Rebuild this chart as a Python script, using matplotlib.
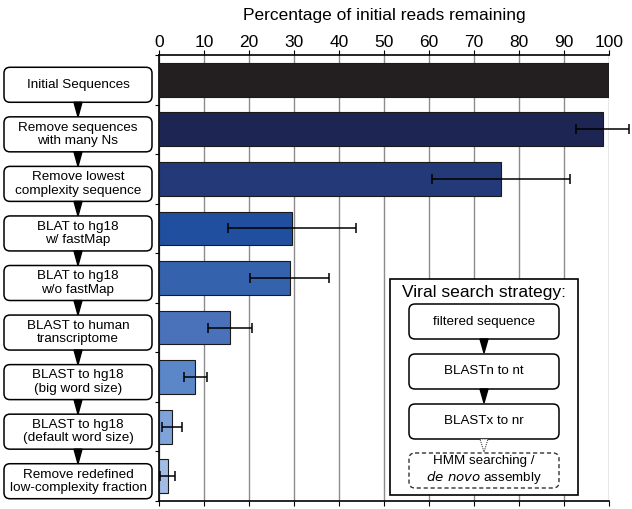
import matplotlib.pyplot as plt
from matplotlib.patches import FancyBboxPatch, Polygon

plt.rcParams['font.family'] = ['Liberation Sans', 'DejaVu Sans']

steps = ['Initial Sequences', 'Remove sequences\nwith many Ns', 'Remove lowest\ncomplexity sequence',
         'BLAT to hg18\nw/ fastMap', 'BLAT to hg18\nw/o fastMap', 'BLAST to human\ntranscriptome',
         'BLAST to hg18\n(big word size)', 'BLAST to hg18\n(default word size)',
         'Remove redefined\nlow-complexity fraction']
pct = [100, 98.6, 76.0, 29.5, 29.0, 15.8, 8.1, 2.9, 1.9]
err = [0, 5.9, 15.3, 14.2, 8.7, 4.9, 2.6, 2.3, 1.7]
colors = ['#231f20', '#1d2553', '#243a78', '#1f4f9e', '#3562ac', '#4a72bb', '#5b86c8', '#7ea3da', '#a2bce6']
viral_steps = ['filtered sequence', 'BLASTn to nt', 'BLASTx to nr']
viral_last = r'HMM searching /' + '\n' + r'$\it{de\ novo}$ assembly'

fig = plt.figure(figsize=(6.32, 5.09), dpi=100)
ax = fig.add_axes([159 / 632, 1 - 501 / 509, 450 / 632, 446 / 509])

y = list(range(len(steps)))
ax.barh(y, pct, height=0.68, color=colors, edgecolor='#1a1a1a', linewidth=0.8, zorder=3)
for i in range(1, len(steps)):
    ax.errorbar(pct[i], i, xerr=err[i], fmt='none', ecolor='black', elinewidth=1.1,
                capsize=3.5, capthick=1.1, zorder=4, clip_on=False)

ax.set_xlim(0, 100)
ax.set_ylim(len(steps) - 0.5, -0.5)
ax.set_xticks(range(0, 101, 10))
ax.xaxis.tick_top()
ax.tick_params(axis='x', labelsize=12.5, length=3.5, direction='out', bottom=True, top=True, pad=0)
ax.xaxis.set_label_position('top')
ax.set_xlabel('Percentage of initial reads remaining', fontsize=12.5, labelpad=11)
ax.set_yticks([i + 0.5 for i in range(-1, len(steps))])
ax.set_yticklabels([])
ax.tick_params(axis='y', length=3, direction='out')
ax.grid(axis='x', color='#8c8c8c', linewidth=1.0, zorder=0)
ax.spines['right'].set_visible(False)
for s in ['left', 'top', 'bottom']:
    ax.spines[s].set_linewidth(1.2)

# overlay in pixel coords for the flowchart decorations
ov = fig.add_axes([0, 0, 1, 1], zorder=5)
ov.set_xlim(0, 632)
ov.set_ylim(509, 0)
ov.axis('off')
ov.patch.set_alpha(0)

row = 446 / len(steps)
for i, name in enumerate(steps):
    cy = 55 + row * (i + 0.5) + 5
    ov.add_patch(FancyBboxPatch((4, cy - 17.5), 148, 35, boxstyle='round,pad=0,rounding_size=6',
                                facecolor='white', edgecolor='black', linewidth=1.1))
    ov.text(78, cy, name, ha='center', va='center', fontsize=9.7, linespacing=1.15)
    if i < len(steps) - 1:
        top = cy + 17.5
        bot = 55 + row * (i + 1.5) + 5 - 17.5
        ov.add_patch(Polygon([(74, top), (82, top), (78, bot)], closed=True, color='black'))

# inset
ov.add_patch(FancyBboxPatch((390, 279), 188, 216, boxstyle='square,pad=0',
                            facecolor='white', edgecolor='black', linewidth=1.2))
ov.text(484, 292, 'Viral search strategy:', ha='center', va='center', fontsize=12.6)
tops = [304, 354, 404]
for t, name in zip(tops, viral_steps):
    ov.add_patch(FancyBboxPatch((409, t), 150, 35, boxstyle='round,pad=0,rounding_size=6',
                                facecolor='white', edgecolor='black', linewidth=1.1))
    ov.text(484, t + 17.5, name, ha='center', va='center', fontsize=9.6)
for t in tops[:2]:
    ov.add_patch(Polygon([(480, t + 35), (488, t + 35), (484, t + 49)], closed=True, color='black'))
ov.add_patch(Polygon([(480, 439), (488, 439), (484, 452)], closed=True, facecolor='white',
                     edgecolor='#444444', linestyle=(0, (1, 1)), linewidth=0.8))
ov.add_patch(FancyBboxPatch((409, 453), 150, 35, boxstyle='round,pad=0,rounding_size=6',
                            facecolor='white', edgecolor='#333333', linewidth=1.0, linestyle=(0, (3, 2))))
ov.text(484, 470.5, viral_last, ha='center', va='center', fontsize=9.6, linespacing=1.1)

fig.savefig('out.png', dpi=100)
